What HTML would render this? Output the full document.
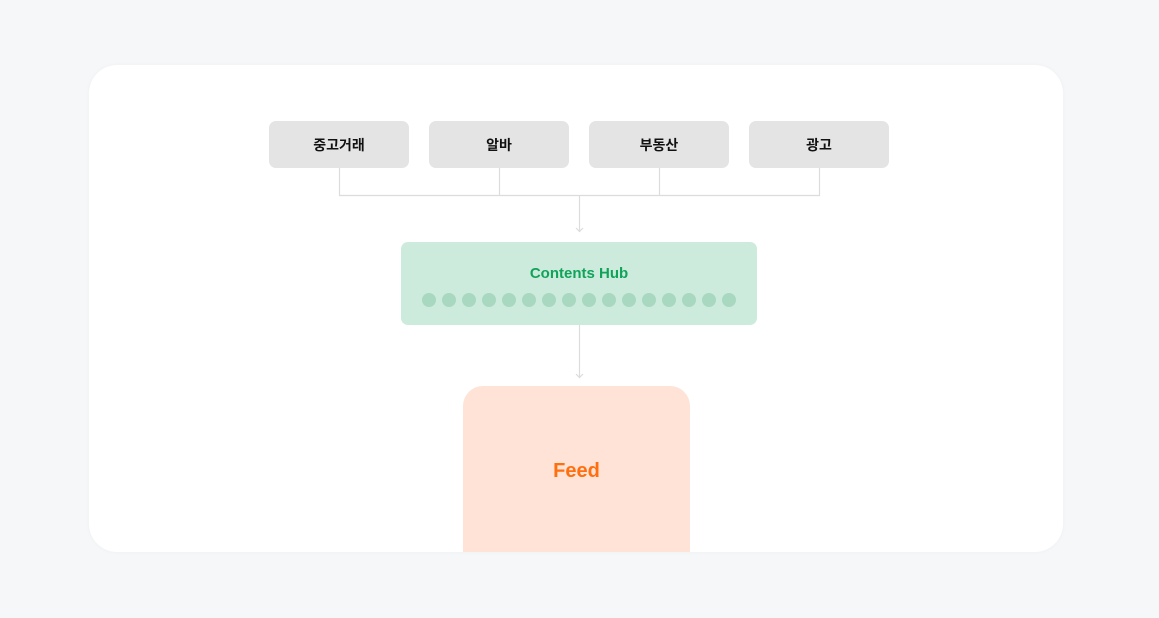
<!DOCTYPE html>
<html><head><meta charset="utf-8"><style>
body{margin:0;width:1159px;height:618px;background:#f6f7f9;position:relative;overflow:hidden;font-family:"Liberation Sans","Noto Sans CJK KR",sans-serif}
.card{position:absolute;left:89px;top:65px;width:974px;height:487px;background:#fff;border-radius:28px;overflow:hidden;box-shadow:0 0 4px rgba(0,0,0,0.04)}
.src{position:absolute;top:121px;width:140px;height:47px;background:#e4e4e4;border-radius:7px;font-size:14px;font-weight:bold;color:#111;display:flex;align-items:center;justify-content:center}
.hub{position:absolute;left:401px;top:242px;width:356px;height:83px;background:#cdebdc;border-radius:7px}
.hub .t{position:absolute;left:0;right:0;top:23px;text-align:center;color:#10a35a;font-weight:bold;font-size:15px}
.dot{position:absolute;top:293px;width:14px;height:14px;border-radius:50%;background:#a8d8c0}
.feed{position:absolute;left:463px;top:386px;width:227px;height:200px;background:#fee3d6;border-radius:20px}
.feed .t{position:absolute;left:0;right:0;top:74px;text-align:center;color:#ff6f0f;font-weight:bold;font-size:20px}
</style></head><body>
<div class="card"></div>
<svg style="position:absolute;left:0;top:0" width="1159" height="618">
<g stroke="#dcdcdc" stroke-width="1.2" fill="none">
<path d="M339.5 168V195.5H819.5V168M499.5 168V195.5M659.5 168V195.5M579.5 195.5V231"/>
<path d="M576 228L579.5 231.5L583 228"/>
<path d="M579.5 325V377"/>
<path d="M576 374L579.5 377.5L583 374"/>
</g></svg>
<div class="src" style="left:269px">중고거래</div>
<div class="src" style="left:429px">알바</div>
<div class="src" style="left:589px">부동산</div>
<div class="src" style="left:749px">광고</div>
<div class="hub"><div class="t">Contents Hub</div></div>
<div class="dot" style="left:422px"></div><div class="dot" style="left:442px"></div><div class="dot" style="left:462px"></div><div class="dot" style="left:482px"></div>
<div class="dot" style="left:502px"></div><div class="dot" style="left:522px"></div><div class="dot" style="left:542px"></div><div class="dot" style="left:562px"></div>
<div class="dot" style="left:582px"></div><div class="dot" style="left:602px"></div><div class="dot" style="left:622px"></div><div class="dot" style="left:642px"></div>
<div class="dot" style="left:662px"></div><div class="dot" style="left:682px"></div><div class="dot" style="left:702px"></div><div class="dot" style="left:722px"></div>
<div style="position:absolute;left:89px;top:65px;width:974px;height:487px;border-radius:28px;overflow:hidden">
<div class="feed" style="left:374px;top:321px"><div class="t">Feed</div></div>
</div>
</body></html>
